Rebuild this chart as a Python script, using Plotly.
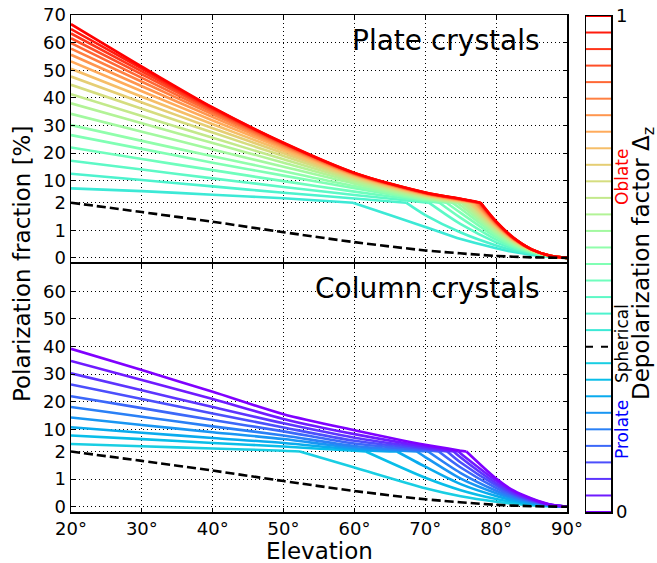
import math
import plotly.graph_objects as go

W, H = 657, 563

# ---------------- data ----------------
elev_grid = [20, 30, 40, 50, 60, 70, 75, 80, 82.5, 85, 87.5, 90]

# Plate crystals (oblate), depolarization factor values
plate_dz = [0.3667, 0.4, 0.4333, 0.4667, 0.5, 0.5333, 0.5667, 0.6, 0.6333, 0.6667,
            0.7, 0.7333, 0.7667, 0.8, 0.8333, 0.8667, 0.9, 0.9333, 0.9667, 1.0]
plate_vals = [
    [7.2, 6.2, 4.9, 3.6, 1.98, 1.12, 0.68, 0.35, 0.21, 0.11, 0.04, 0.0],
    [12.5, 10.2, 7.9, 5.6, 3.5, 1.55, 0.92, 0.45, 0.27, 0.15, 0.05, 0.0],
    [17.2, 14.0, 10.8, 7.7, 4.8, 2.12, 1.22, 0.56, 0.33, 0.18, 0.06, 0.0],
    [22.0, 17.8, 13.8, 9.8, 6.0, 2.6, 1.45, 0.66, 0.38, 0.2, 0.07, 0.0],
    [26.5, 21.5, 16.5, 11.8, 7.2, 2.95, 1.63, 0.75, 0.43, 0.22, 0.07, 0.0],
    [30.1, 24.4, 18.8, 13.4, 8.0, 3.3, 1.78, 0.83, 0.47, 0.24, 0.08, 0.0],
    [34.2, 27.7, 21.3, 15.0, 8.9, 3.6, 1.9, 0.9, 0.5, 0.25, 0.08, 0.0],
    [38.0, 30.8, 23.6, 16.5, 9.6, 3.9, 2.02, 0.96, 0.54, 0.26, 0.08, 0.0],
    [41.3, 33.4, 25.5, 17.7, 10.2, 4.2, 2.2, 1.02, 0.57, 0.27, 0.08, 0.0],
    [44.7, 36.0, 27.4, 18.9, 10.8, 4.5, 2.4, 1.07, 0.6, 0.28, 0.09, 0.0],
    [47.7, 38.3, 29.0, 19.9, 11.2, 4.7, 2.6, 1.11, 0.62, 0.29, 0.09, 0.0],
    [50.5, 40.4, 30.4, 20.8, 11.6, 4.9, 2.75, 1.15, 0.64, 0.29, 0.09, 0.0],
    [53.2, 42.4, 31.8, 21.6, 11.9, 5.1, 2.9, 1.18, 0.66, 0.3, 0.09, 0.0],
    [55.6, 44.2, 33.0, 22.2, 12.1, 5.2, 3.0, 1.21, 0.67, 0.3, 0.09, 0.0],
    [57.8, 45.8, 34.0, 22.7, 12.3, 5.3, 3.1, 1.24, 0.68, 0.3, 0.09, 0.0],
    [59.8, 47.2, 34.8, 23.0, 12.5, 5.4, 3.2, 1.26, 0.69, 0.31, 0.09, 0.0],
    [61.6, 48.5, 35.5, 23.3, 12.6, 5.5, 3.25, 1.28, 0.7, 0.31, 0.09, 0.0],
    [63.3, 49.6, 36.0, 23.5, 12.7, 5.6, 3.3, 1.3, 0.71, 0.31, 0.09, 0.0],
    [64.9, 50.6, 36.3, 23.6, 12.8, 5.65, 3.35, 1.31, 0.72, 0.31, 0.09, 0.0],
    [66.7, 51.3, 36.5, 23.7, 12.8, 5.7, 3.4, 1.32, 0.72, 0.31, 0.09, 0.0],
]
# elevation where each plate curve passes through 2 %
plate_cross = [59.8, 67.3, 70.5, 72.0, 73.0, 73.8, 74.5, 75.1, 75.5, 76.0,
               76.3, 76.6, 76.9, 77.1, 77.3, 77.5, 77.6, 77.7, 77.8, 77.8]

# Column crystals (prolate)
column_dz = [0.0, 0.0333, 0.0667, 0.1, 0.1333, 0.1667, 0.2, 0.2333, 0.2667, 0.3]
column_vals = [
    [39.2, 31.5, 23.6, 15.5, 9.7, 4.4, 2.3, 1.02, 0.58, 0.3, 0.09, 0.0],
    [34.8, 27.9, 21.0, 13.8, 8.3, 3.8, 1.93, 0.94, 0.54, 0.28, 0.08, 0.0],
    [30.3, 24.2, 18.1, 12.2, 7.0, 3.3, 1.78, 0.85, 0.49, 0.25, 0.08, 0.0],
    [26.3, 21.0, 15.8, 10.7, 5.9, 2.9, 1.6, 0.77, 0.45, 0.23, 0.07, 0.0],
    [22.0, 17.7, 13.4, 9.3, 4.9, 2.45, 1.42, 0.68, 0.4, 0.21, 0.07, 0.0],
    [18.1, 14.6, 11.1, 7.8, 4.0, 2.07, 1.22, 0.58, 0.34, 0.18, 0.06, 0.0],
    [14.3, 11.6, 9.0, 6.5, 3.3, 1.8, 1.02, 0.49, 0.29, 0.15, 0.05, 0.0],
    [10.8, 8.8, 6.9, 5.1, 2.7, 1.45, 0.82, 0.39, 0.23, 0.12, 0.04, 0.0],
    [7.8, 6.5, 5.1, 3.8, 2.25, 1.05, 0.6, 0.28, 0.17, 0.09, 0.03, 0.0],
    [4.7, 3.9, 3.1, 2.3, 1.42, 0.67, 0.38, 0.18, 0.11, 0.06, 0.02, 0.0],
]
column_cross = [75.8, 74.7, 74.0, 73.1, 71.9, 70.4, 68.8, 66.0, 61.6, 52.3]

# Spherical particles (dashed)
sph_dz = 0.3333
sph_elev = [20, 30, 40, 50, 60, 70, 80, 85, 90]
sph_vals = [2.0, 1.66, 1.31, 0.93, 0.57, 0.27, 0.07, 0.02, 0.0]

ytick_vals = [0, 1, 2, 10, 20, 30, 40, 50, 60, 70]
xtick_vals = [20, 30, 40, 50, 60, 70, 80, 90]
xtick_text = ["20°", "30°", "40°", "50°", "60°", "70°", "80°", "90°"]

# ---------------- helpers ----------------
def tr(v):
    """Axis scale: linear 0-2, compressed tenfold above 2."""
    return v if v <= 2 else 2 + (v - 2) / 10.0


def rainbow(x):
    r = min(1.0, abs(2 * x - 0.5))
    g = max(0.0, math.sin(math.pi * x))
    b = max(0.0, math.cos(math.pi * x / 2))
    return "rgb(%d,%d,%d)" % (round(r * 255), round(g * 255), round(b * 255))


def curve_parts(vals, cross):
    pts = list(zip(elev_grid, vals)) + [(cross, 2.0)]
    pts.sort(key=lambda p: p[0])
    upper = [p for p in pts if p[0] <= cross]
    lower = [p for p in pts if p[0] >= cross]
    return upper, lower


fig = go.Figure()
LW = 2.6


def add_curve(vals, cross, color, xa, ya):
    for part in curve_parts(vals, cross):
        if len(part) < 2:
            continue
        fig.add_trace(go.Scatter(
            x=[p[0] for p in part], y=[tr(p[1]) for p in part], mode="lines",
            xaxis=xa, yaxis=ya,
            line=dict(color=color, width=LW, shape="spline", smoothing=0.8),
            showlegend=False, hoverinfo="skip"))


# top panel: plate crystals
for dz, vals, cr in zip(plate_dz, plate_vals, plate_cross):
    add_curve(vals, cr, rainbow(dz), "x", "y")
fig.add_trace(go.Scatter(x=sph_elev, y=[tr(v) for v in sph_vals], mode="lines",
                         xaxis="x", yaxis="y",
                         line=dict(color="black", width=LW, dash="9px,4px",
                                   shape="spline", smoothing=0.6),
                         showlegend=False, hoverinfo="skip"))

# bottom panel: column crystals (purple drawn last)
for dz, vals, cr in list(zip(column_dz, column_vals, column_cross))[::-1]:
    add_curve(vals, cr, rainbow(dz), "x2", "y2")
fig.add_trace(go.Scatter(x=sph_elev, y=[tr(v) for v in sph_vals], mode="lines",
                         xaxis="x2", yaxis="y2",
                         line=dict(color="black", width=LW, dash="9px,4px",
                                   shape="spline", smoothing=0.6),
                         showlegend=False, hoverinfo="skip"))

# colour bar made of lines
for dz in column_dz + plate_dz:
    fig.add_trace(go.Scatter(x=[0, 1], y=[dz, dz], mode="lines", xaxis="x3", yaxis="y3",
                             line=dict(color=rainbow(dz), width=2),
                             showlegend=False, hoverinfo="skip"))
fig.add_trace(go.Scatter(x=[0, 1], y=[sph_dz, sph_dz], mode="lines", xaxis="x3", yaxis="y3",
                         line=dict(color="black", width=2, dash="7px,8px"),
                         showlegend=False, hoverinfo="skip"))

# ---------------- layout ----------------
def px_x(p):
    return p / W


def px_y(p):
    return 1 - p / H


FONT = "DejaVu Sans"
common = dict(showline=True, linecolor="black", linewidth=1.5, mirror="allticks",
              ticks="inside", ticklen=4, tickwidth=1, tickcolor="black",
              showgrid=True, gridcolor="black", gridwidth=1, griddash="1px,3px",
              zeroline=False, automargin=False,
              tickfont=dict(family=FONT, size=18, color="black"))

xd = [px_x(71), px_x(567)]
ytv = [tr(v) for v in ytick_vals]
ytt = [str(v) for v in ytick_vals]

fig.update_layout(
    width=W, height=H, margin=dict(l=0, r=0, t=0, b=0, autoexpand=False),
    paper_bgcolor="white", plot_bgcolor="white", showlegend=False,
    font=dict(family=FONT, color="black", size=18),
    xaxis=dict(domain=xd, range=[20, 90], anchor="y", tickvals=xtick_vals,
               showticklabels=False, **common),
    yaxis=dict(domain=[px_y(262.3), px_y(15)], range=[-0.16, 8.8], anchor="x",
               tickvals=ytv, ticktext=ytt, **common),
    xaxis2=dict(domain=xd, range=[20, 90], anchor="y2", tickvals=xtick_vals,
                ticktext=xtick_text, **common),
    yaxis2=dict(domain=[px_y(512), px_y(263.7)], range=[-0.19, 8.8], anchor="x2",
                tickvals=ytv[:-1], ticktext=ytt[:-1], **common),
    xaxis3=dict(domain=[px_x(586), px_x(611)], range=[0, 1], anchor="y3",
                showticklabels=False, showgrid=False, ticks="", zeroline=False,
                automargin=False,
                showline=True, mirror=True, linecolor="black", linewidth=1.5),
    yaxis3=dict(domain=[px_y(512), px_y(16)], range=[0, 1], anchor="x3", side="right",
                tickvals=[0, 1], ticktext=["0", "1"], showgrid=False, ticks="",
                zeroline=False, showline=True, mirror=True, linecolor="black",
                automargin=False,
                linewidth=1.5, tickfont=dict(family=FONT, size=18, color="black")),
)

ann = [
    dict(text="Plate crystals", x=px_x(542), y=px_y(40), xanchor="right", yanchor="middle",
         font=dict(size=28)),
    dict(text="Column crystals", x=px_x(542), y=px_y(288), xanchor="right", yanchor="middle",
         font=dict(size=28)),
    dict(text="Elevation", x=px_x(319), y=px_y(551), xanchor="center", yanchor="middle",
         font=dict(size=23)),
    dict(text="Polarization fraction [%]", x=px_x(22), y=px_y(264), xanchor="center",
         yanchor="middle", textangle=-90, font=dict(size=23)),
    dict(text="Depolarization factor Δ<sub>z</sub>", x=px_x(643), y=px_y(264),
         xanchor="center", yanchor="middle", textangle=-90, font=dict(size=23)),
    dict(text="Oblate", x=px_x(622), y=px_y(177), xanchor="center", yanchor="middle",
         textangle=-90, font=dict(size=17, color="red")),
    dict(text="Spherical", x=px_x(622), y=px_y(344), xanchor="center", yanchor="middle",
         textangle=-90, font=dict(size=17, color="black")),
    dict(text="Prolate", x=px_x(622), y=px_y(430), xanchor="center", yanchor="middle",
         textangle=-90, font=dict(size=17, color="blue")),
]
for a in ann:
    a.update(xref="paper", yref="paper", showarrow=False)
    a["font"] = dict(family=FONT, color=a["font"].get("color", "black"), size=a["font"]["size"])
fig.update_layout(annotations=ann)

fig.write_html("out.html", config={"displayModeBar": False, "staticPlot": True})

# remove the browser's default page margin so the figure sits at the window origin
with open("out.html", "r", encoding="utf-8") as f:
    page = f.read()
page = page.replace("<head>", "<head><style>html,body{margin:0;padding:0;overflow:hidden;}</style>", 1)
with open("out.html", "w", encoding="utf-8") as f:
    f.write(page)
